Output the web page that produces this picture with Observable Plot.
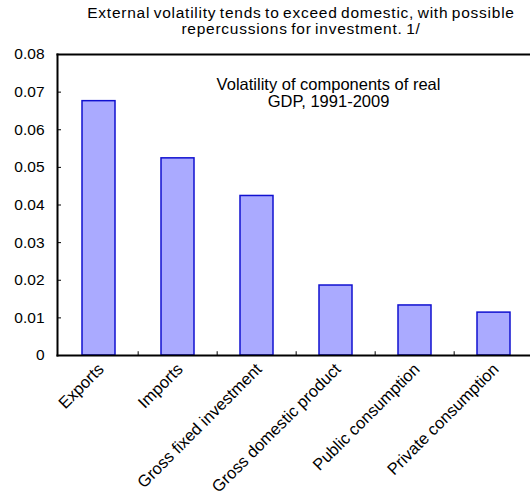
<!DOCTYPE html>
<html>
<head>
<meta charset="utf-8">
<script src="https://cdn.jsdelivr.net/npm/d3@7"></script>
<script src="https://cdn.jsdelivr.net/npm/@observablehq/plot@0.6"></script>
<style>
  html, body { margin: 0; padding: 0; background: #fff; }
  body { width: 530px; height: 501px; overflow: hidden; font-family: "Liberation Sans", Arial, sans-serif; }
  #title { height: 44px; box-sizing: border-box; padding: 5px 0 0 72px; width: 530px; text-align: center;
           font-size: 15.5px; line-height: 16px; color: #000; letter-spacing: 0.75px; word-spacing: -1.5px; }
  svg { display: block; overflow: visible; }
</style>
</head>
<body>
<div id="title">External volatility tends to exceed domestic, with possible<br>repercussions for investment. 1/</div>
<div id="chart"></div>
<script>
const categories = ["Exports", "Imports", "Gross fixed investment", "Gross domestic product", "Public consumption", "Private consumption"];
const values = [0.0676, 0.0524, 0.0424, 0.0186, 0.0133, 0.0114];
const yTicks = [0, 0.01, 0.02, 0.03, 0.04, 0.05, 0.06, 0.07, 0.08];
const annotation = "Volatility of components of real\nGDP, 1991-2009";

const data = categories.map((c, i) => ({category: c, value: values[i]}));
const boundaries = categories.slice(1);

const marginLeft = 57, rangeEnd = 535;
const pi = 0.585;
const step = (rangeEnd - marginLeft) / categories.length;

const chart = Plot.plot({
  width: 530,
  height: 457,
  marginTop: 10,
  marginBottom: 146,
  marginLeft: marginLeft,
  marginRight: 530 - rangeEnd,
  style: {fontFamily: "'Liberation Sans', Arial, sans-serif", fontSize: "15px", color: "#000", overflow: "visible"},
  x: {domain: categories, range: [marginLeft, rangeEnd], paddingInner: pi, paddingOuter: pi / 2, axis: null},
  y: {domain: [0, 0.08], axis: null},
  marks: [
    Plot.barY(data, {x: "category", y: "value", fill: "#aaaaff", stroke: "#1010d0", strokeWidth: 1.5}),
    Plot.axisY({ticks: yTicks, tickFormat: d => String(d), tickSize: 0, tickPadding: 13, fontSize: 15.5, label: null}),
    Plot.axisY({ticks: yTicks, tickFormat: () => "", tickSize: -4, strokeWidth: 1, label: null}),
    Plot.ruleX(boundaries, {x: d => d, dx: -step / 2, y1: 0, y2: 0.001, stroke: "#000", strokeWidth: 1}),
    Plot.frame({anchor: "left", stroke: "#000", strokeWidth: 2}),
    Plot.frame({anchor: "top", stroke: "#000", strokeWidth: 2}),
    Plot.frame({anchor: "bottom", stroke: "#000", strokeWidth: 2}),
    Plot.text(categories, {x: d => d, y: 0, text: d => d, rotate: -45, textAnchor: "end", dx: 2, dy: 11, fontSize: 16.5, fill: "#000"}),
    Plot.text([annotation], {frameAnchor: "top", dx: 32, dy: 24, lineAnchor: "top", lineHeight: 1.0, fontSize: 16.5, fill: "#000"})
  ]
});
document.getElementById("chart").appendChild(chart);
</script>
</body>
</html>
